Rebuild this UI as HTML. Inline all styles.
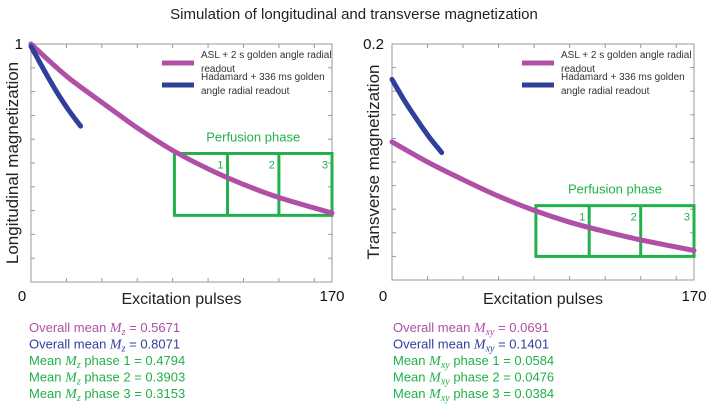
<!DOCTYPE html>
<html><head><meta charset="utf-8"><style>
body{margin:0;background:#fff;width:709px;height:408px;overflow:hidden;font-family:"Liberation Sans",sans-serif}
svg text{font-family:"Liberation Sans",sans-serif}
</style></head><body>
<svg id="s" width="709" height="408">
<text x="354" y="19" text-anchor="middle" font-size="15" fill="#222">Simulation of longitudinal and transverse magnetization</text>
</svg>
<script>
const pulsesA = [0, 20, 40, 60, 80, 100, 120, 140, 170];
const mzAsl = [1, 0.865, 0.755, 0.648, 0.553, 0.475, 0.41, 0.355, 0.29];
const pulsesH = [0, 7, 14, 21, 28];
const mzHad = [0.99, 0.895, 0.805, 0.725, 0.655];
const pulsesX = [0, 20, 40, 60, 80, 100, 120, 140, 170];
const mxyAsl = [0.117, 0.100, 0.085, 0.071, 0.059, 0.049, 0.041, 0.034, 0.025];
const mxyHad = [0.17, 0.152, 0.136, 0.121, 0.108];
const phaseEdges = [81, 111, 140, 170];
const boxMz = [0.54, 0.28];
const boxMxy = [0.063, 0.020];
const ymaxLabels = ["1", "0.2"];
const statsMz = ["0.5671","0.8071","0.4794","0.3903","0.3153"];
const statsMxy = ["0.0691","0.1401","0.0584","0.0476","0.0384"];

const NS="http://www.w3.org/2000/svg", svg=document.getElementById('s');
const PINK="#b04fa6", BLUE="#2f3f9b", GREEN="#22b04b";
function mk(tag,attrs,parent){const e=document.createElementNS(NS,tag);for(const k in attrs)e.setAttribute(k,attrs[k]);(parent||svg).appendChild(e);return e;}
function smooth(pts){
  let d='M'+pts[0][0].toFixed(1)+','+pts[0][1].toFixed(1);
  for(let i=0;i<pts.length-1;i++){
    const p0=pts[i-1]||pts[i],p1=pts[i],p2=pts[i+1],p3=pts[i+2]||p2;
    const c1=[p1[0]+(p2[0]-p0[0])/6,p1[1]+(p2[1]-p0[1])/6];
    const c2=[p2[0]-(p3[0]-p1[0])/6,p2[1]-(p3[1]-p1[1])/6];
    d+='C'+c1.map(v=>v.toFixed(1)).join(',')+' '+c2.map(v=>v.toFixed(1)).join(',')+' '+p2[0].toFixed(1)+','+p2[1].toFixed(1);
  }
  return d;
}

function panel(o){
  const g=mk('g',{});
  
  
  const X=v=>o.x0+(v/170)*(o.x1-o.x0);
  const Y=v=>o.y1-(v/o.ymax)*(o.y1-o.y0);
  const ax=mk('rect',{x:o.x0,y:o.y0,width:o.x1-o.x0,height:o.y1-o.y0,fill:'none',stroke:'#999','stroke-width':1},g);
  
  
  for(let i=1;i<10;i++){const y=Y(o.ymax*i/10);
    const t=mk('line',{x1:o.x0,x2:o.x0+4,y1:y,y2:y,stroke:'#999'},g);
    
    
    mk('line',{x1:o.x1,x2:o.x1-4,y1:y,y2:y,stroke:'#999'},g);}
  for(let v=20;v<170;v+=20){const x=X(v);
    const t=mk('line',{x1:x,x2:x,y1:o.y1,y2:o.y1-4,stroke:'#999'},g);
    
    
    mk('line',{x1:x,x2:x,y1:o.y0,y2:o.y0+4,stroke:'#999'},g);}
  const bt=Y(o.box[0]), bb=Y(o.box[1]);
  const box=mk('rect',{x:X(phaseEdges[0]),y:bt,width:X(phaseEdges[3])-X(phaseEdges[0]),height:bb-bt,fill:'none',stroke:GREEN,'stroke-width':3},g);
  
  
  for(let i=1;i<=3;i++){
    if(i<3){const d=mk('line',{x1:X(phaseEdges[i]),x2:X(phaseEdges[i]),y1:bt,y2:bb,stroke:GREEN,'stroke-width':3},g);
      
      }
    const n=mk('text',{x:X(phaseEdges[i])-4,y:bt+15,'text-anchor':'end','font-size':11,fill:GREEN},g);n.textContent=i;
    
    
  }
  const pt=mk('text',{x:(X(phaseEdges[0])+X(phaseEdges[3]))/2,y:bt-12,'text-anchor':'middle','font-size':13,fill:GREEN},g);pt.textContent="Perfusion phase";
  
  
  function line(xs,ys,c,name){
    const p=mk('path',{d:smooth(xs.map((v,i)=>[X(v),Y(ys[i])])),fill:'none',stroke:c,'stroke-width':5,'stroke-linecap':'round','stroke-linejoin':'round'},g);
    
    
  }
  line(o.ax,o.ay,PINK,'asl-series');
  line(pulsesH,o.hy,BLUE,'hadamard-series');
  const lx=o.lx;
  const leg=[[PINK,"ASL + 2 s golden angle radial","readout",63],[BLUE,"Hadamard + 336 ms golden","angle radial readout",85]];
  leg.forEach(L=>{
    const l=mk('line',{x1:lx,x2:lx+32,y1:L[3],y2:L[3],stroke:L[0],'stroke-width':5},g);
    
    
    const t=mk('text',{x:lx+39,y:L[3]-5,'font-size':10,fill:'#333'},g);t.textContent=L[1];
    
    
    const t2=mk('text',{x:lx+39,y:L[3]+9,'font-size':10,fill:'#333'},g);t2.textContent=L[2];
  });
  const yl=mk('text',{x:o.x0-8,y:o.y0+5,'text-anchor':'end','font-size':15,fill:'#111'},g);yl.textContent=o.ytop;
  
  
  const z=mk('text',{x:o.x0-9,y:301,'text-anchor':'middle','font-size':15,fill:'#111'},g);z.textContent="0";
  
  
  const m=mk('text',{x:o.x1,y:301,'text-anchor':'middle','font-size':15,fill:'#111'},g);m.textContent="170";
  
  
  const xt=mk('text',{x:(o.x0+o.x1)/2,y:304,'text-anchor':'middle','font-size':16,fill:'#222'},g);xt.textContent="Excitation pulses";
  
  
  const yt=mk('text',{x:0,y:0,'text-anchor':'middle','font-size':17,fill:'#222',transform:`translate(${o.x0-13},${(o.y0+o.y1)/2}) rotate(-90)`},g);yt.textContent=o.ytitle;
  
  
  const cols=[PINK,BLUE,GREEN,GREEN,GREEN];
  const pre=["Overall mean ","Overall mean ","Mean ","Mean ","Mean "];
  const suf=[" = "," = "," phase 1 = "," phase 2 = "," phase 3 = "];
  o.stats.forEach((v,i)=>{
    const t=mk('text',{x:o.sx,y:332+i*16.5,'font-size':13,fill:cols[i]},g);
    
    
    const a=mk('tspan',{},t);a.textContent=pre[i];
    const b=mk('tspan',{'font-style':'italic','font-family':'Liberation Serif, serif','font-size':14},t);b.textContent="M";
    const c=mk('tspan',{'font-style':'italic','font-family':'Liberation Serif, serif','font-size':10,dy:3},t);c.textContent=o.sub;
    const d=mk('tspan',{dy:-3},t);d.textContent=suf[i]+v;
  });
}
panel({name:'longitudinal-panel',x0:31,x1:332,y0:44,y1:282,ymax:1,ax:pulsesA,ay:mzAsl,hy:mzHad,box:boxMz,lx:162,ytop:ymaxLabels[0],ytitle:"Longitudinal magnetization",stats:statsMz,sx:29,sub:"z"});
panel({name:'transverse-panel',x0:392,x1:694,y0:44,y1:280,ymax:0.2,ax:pulsesX,ay:mxyAsl,hy:mxyHad,box:boxMxy,lx:522,ytop:ymaxLabels[1],ytitle:"Transverse magnetization",stats:statsMxy,sx:393,sub:"xy"});
</script>
</body></html>
